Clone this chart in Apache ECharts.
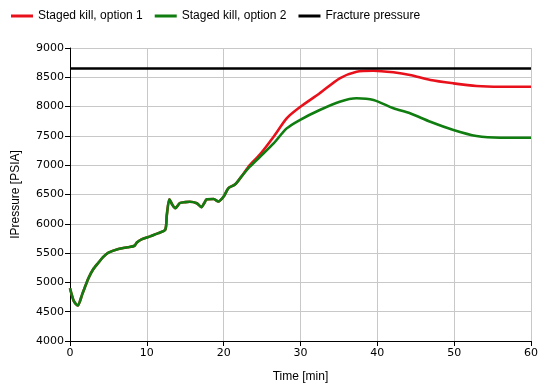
<!DOCTYPE html>
<html><head><meta charset="utf-8">
<script src="https://cdn.jsdelivr.net/npm/echarts@6/dist/echarts.min.js"></script>
<style>html,body{margin:0;padding:0;background:#fff}#c{width:548px;height:392px}</style>
</head><body><div id="c"></div>
<script>
// Shared early section (both options coincide)
const tShared = [0, 0.5, 1.0, 1.6, 2.4, 3.0, 3.7, 4.3, 5.0, 6.3, 7.5, 8.4, 8.7, 9.3, 10.5, 11.5, 12.4, 12.6, 12.93, 13.3, 13.7, 14.3, 15.0, 15.6, 16.5, 17.1, 17.5, 17.8, 18.7, 19.3, 20.0, 20.6, 21.5, 22.3];
const pShared = [4900, 4680, 4605, 4800, 5070, 5220, 5336, 5430, 5507, 5570, 5600, 5625, 5680, 5735, 5790, 5840, 5900, 6150, 6418, 6330, 6265, 6355, 6370, 6377, 6350, 6285, 6360, 6418, 6423, 6380, 6465, 6606, 6674, 6804];
// Later sections
const tLate = [23.4, 24.7, 26.5, 28.2, 29.9, 32.5, 35.1, 37.3, 39.5, 42.1, 44.25, 46.9, 49.9, 52.9, 56, 60];
const pOption1 = [7000, 7180, 7486, 7800, 7988, 8227, 8483, 8596, 8613, 8585, 8539, 8454, 8397, 8352, 8340, 8340];
const pOption2 = [6974, 7140, 7372, 7628, 7771, 7942, 8084, 8142, 8113, 7971, 7885, 7742, 7601, 7498, 7469, 7469];
const tFracture = [0, 60];
const pFracture = [8650, 8650];
const yTicks = [4000, 4500, 5000, 5500, 6000, 6500, 7000, 7500, 8000, 8500, 9000];
const xTicks = [0, 10, 20, 30, 40, 50, 60];

const zip = (a, b) => a.map((v, i) => [v, b[i]]);
const s1 = zip(tShared, pShared).concat(zip(tLate, pOption1));
const s2 = zip(tShared, pShared).concat(zip(tLate, pOption2));

const chart = echarts.init(document.getElementById('c'), null, {renderer: 'canvas'});
const tickFont = {fontFamily: 'DejaVu Sans', fontSize: 11, color: '#000', formatter: v => String(v)};
chart.setOption({
  animation: false,
  backgroundColor: '#fff',
  legend: {
    left: 6, top: 5, itemWidth: 22, itemHeight: 3, itemGap: 12,
    icon: 'rect',
    textStyle: {fontFamily: 'Liberation Sans', fontSize: 12, color: '#000'},
    data: ['Staged kill, option 1', 'Staged kill, option 2', 'Fracture pressure']
  },
  grid: {left: 70, right: 17, top: 48, bottom: 51},
  xAxis: {
    type: 'value', min: xTicks[0], max: xTicks[xTicks.length - 1], interval: 10,
    name: 'Time [min]', nameLocation: 'middle', nameGap: 30,
    nameTextStyle: {fontFamily: 'Liberation Sans', fontSize: 12, color: '#000'},
    axisLine: {onZero: false, lineStyle: {color: '#000', width: 1}},
    axisTick: {show: true, length: 5, lineStyle: {color: '#000'}},
    axisLabel: Object.assign({margin: 7}, tickFont),
    splitLine: {show: true, lineStyle: {color: '#c8c8c8', width: 1}}
  },
  yAxis: {
    type: 'value', min: yTicks[0], max: yTicks[yTicks.length - 1], interval: 500,
    name: 'IPressure [PSIA]', nameLocation: 'middle', nameGap: 48,
    nameTextStyle: {fontFamily: 'Liberation Sans', fontSize: 12, color: '#000'},
    axisLine: {show: true, onZero: false, lineStyle: {color: '#000', width: 1}},
    axisTick: {show: true, length: 5, lineStyle: {color: '#000'}},
    axisLabel: Object.assign({margin: 6}, tickFont),
    splitLine: {show: true, lineStyle: {color: '#c8c8c8', width: 1}}
  },
  series: [
    {name: 'Staged kill, option 1', type: 'line', data: s1, showSymbol: false, smooth: 0.25,
     lineStyle: {color: '#e8101a', width: 2.6}, itemStyle: {color: '#e8101a'}},
    {name: 'Staged kill, option 2', type: 'line', data: s2, showSymbol: false, smooth: 0.25,
     lineStyle: {color: '#0f7d0f', width: 2.6}, itemStyle: {color: '#0f7d0f'}},
    {name: 'Fracture pressure', type: 'line', data: zip(tFracture, pFracture), showSymbol: false,
     lineStyle: {color: '#000', width: 2.4}, itemStyle: {color: '#000'}}
  ]
});
</script></body></html>
